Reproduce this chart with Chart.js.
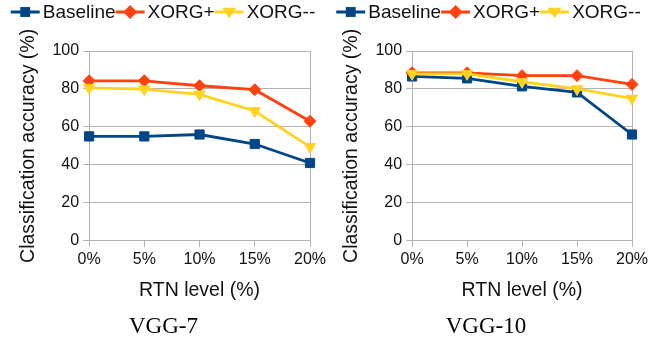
<!DOCTYPE html>
<html>
<head>
<meta charset="utf-8">
<script src="https://cdn.jsdelivr.net/npm/chart.js@4.4.0/dist/chart.umd.min.js"></script>
<style>
  html, body { margin: 0; padding: 0; background: #fff; }
  #wrap { position: relative; width: 668px; height: 341px; }
  .box { position: absolute; top: 0; height: 341px; }
</style>
</head>
<body>
<div id="wrap">
  <div class="box" style="left:0;width:334px"><canvas id="vgg7"></canvas></div>
  <div class="box" style="left:323px;width:345px"><canvas id="vgg10"></canvas></div>
</div>
<script>
const rtnLevels = ["0%", "5%", "10%", "15%", "20%"];
const seriesNames = ["Baseline", "XORG+", "XORG--"];
const yTicks = [0, 20, 40, 60, 80, 100];

// VGG-7
const vgg7Baseline = [55, 55, 56, 51, 41];
const vgg7XorgPlus = [84.3, 84.3, 81.7, 79.6, 63];
const vgg7XorgMinus = [80.6, 79.9, 77.1, 68.4, 49.5];

// VGG-10
const vgg10Baseline = [86.6, 85.6, 81.4, 78.2, 56];
const vgg10XorgPlus = [88.5, 88.5, 87, 87, 82.4];
const vgg10XorgMinus = [88, 88, 83.8, 80, 75];

const colors = ["#004586", "#ff420e", "#ffd320"];
const gridColor = "#b3b3b3";
const textColor = "#111";
const sans = "'Liberation Sans', Arial, sans-serif";

function marker(ctx, style, x, y, r) {
  ctx.beginPath();
  if (style === "rect") {
    const s = r * Math.SQRT1_2;
    ctx.rect(x - s, y - s, 2 * s, 2 * s);
  } else if (style === "rectRot") {
    ctx.moveTo(x, y - r); ctx.lineTo(x + r, y); ctx.lineTo(x, y + r); ctx.lineTo(x - r, y);
    ctx.closePath();
  } else {
    ctx.moveTo(x - r, y - r * 0.6); ctx.lineTo(x + r, y - r * 0.6); ctx.lineTo(x, y + r * 0.9);
    ctx.closePath();
  }
  ctx.fill();
}

// legend drawn as line + marker like the original
const lineLegend = {
  id: "lineLegend",
  afterDraw(chart, args, opts) {
    const ctx = chart.ctx;
    const sets = chart.data.datasets;
    ctx.save();
    ctx.font = "19px " + sans;
    ctx.textBaseline = "middle";
    const seg = 29, gap = 3, y = 12;
    let total = 0;
    sets.forEach(ds => total += seg + gap + ctx.measureText(ds.label).width);
    let x = chart.width / 2 + (opts.shift || 0) - total / 2;
    sets.forEach(ds => {
      ctx.strokeStyle = ds.borderColor;
      ctx.fillStyle = ds.borderColor;
      ctx.lineWidth = 3;
      ctx.beginPath(); ctx.moveTo(x, y); ctx.lineTo(x + seg, y); ctx.stroke();
      marker(ctx, ds.pointStyle, x + seg / 2, y, 7);
      ctx.fillStyle = textColor;
      ctx.fillText(ds.label, x + seg + gap, y + 1);
      x += seg + gap + ctx.measureText(ds.label).width;
    });
    ctx.restore();
  }
};

function makeChart(id, caption, base, plus, minus, pad, shift) {
  const ds = (i, data, style, extra) => Object.assign({
    label: seriesNames[i], data, borderColor: colors[i], backgroundColor: colors[i],
    pointStyle: style, pointRadius: 6.5, pointHoverRadius: 6.5, order: 3 - i
  }, extra || {});
  new Chart(document.getElementById(id), {
    type: "line",
    data: {
      labels: rtnLevels,
      datasets: [
        ds(0, base, "rect"),
        ds(1, plus, "rectRot", { pointRadius: 6, pointHoverRadius: 6 }),
        ds(2, minus, "triangle", { pointRotation: 180 })
      ]
    },
    options: {
      responsive: true,
      maintainAspectRatio: false,
      animation: false,
      layout: { padding: pad },
      elements: { line: { borderWidth: 2.8, tension: 0 }, point: { borderWidth: 1 } },
      plugins: {
        legend: { display: false },
        tooltip: { enabled: false },
        lineLegend: { shift },
        title: {
          display: true, position: "bottom", text: caption, color: "#000",
          font: { family: "'Liberation Serif', serif", size: 23, weight: "normal" },
          padding: { top: 11, bottom: 0 }
        }
      },
      scales: {
        x: {
          offset: false,
          grid: {
            color: c => (c.index === 0 || c.index === rtnLevels.length - 1) ? gridColor : "transparent",
            tickColor: gridColor, tickLength: 6
          },
          border: { color: gridColor },
          ticks: { color: textColor, font: { family: sans, size: 16 }, padding: 3, maxRotation: 0 },
          title: { display: true, text: "RTN level (%)", color: textColor, font: { family: sans, size: 19.5 }, padding: { top: 7, bottom: 0 } }
        },
        y: {
          min: yTicks[0], max: yTicks[yTicks.length - 1],
          grid: { color: gridColor, tickLength: 6 },
          border: { color: gridColor },
          ticks: { stepSize: yTicks[1] - yTicks[0], color: textColor, font: { family: sans, size: 16 }, padding: 4 },
          title: { display: true, text: "Classification accuracy (%)", color: textColor, font: { family: sans, size: 19.5 }, padding: { top: 0, bottom: 8 } }
        }
      }
    },
    plugins: [lineLegend]
  });
}

makeChart("vgg7", "VGG-7", vgg7Baseline, vgg7XorgPlus, vgg7XorgMinus, { top: 51, left: 17, right: 24, bottom: 0 }, -4);
makeChart("vgg10", "VGG-10", vgg10Baseline, vgg10XorgPlus, vgg10XorgMinus, { top: 51, left: 17, right: 36, bottom: 0 }, -7);
</script>
</body>
</html>
